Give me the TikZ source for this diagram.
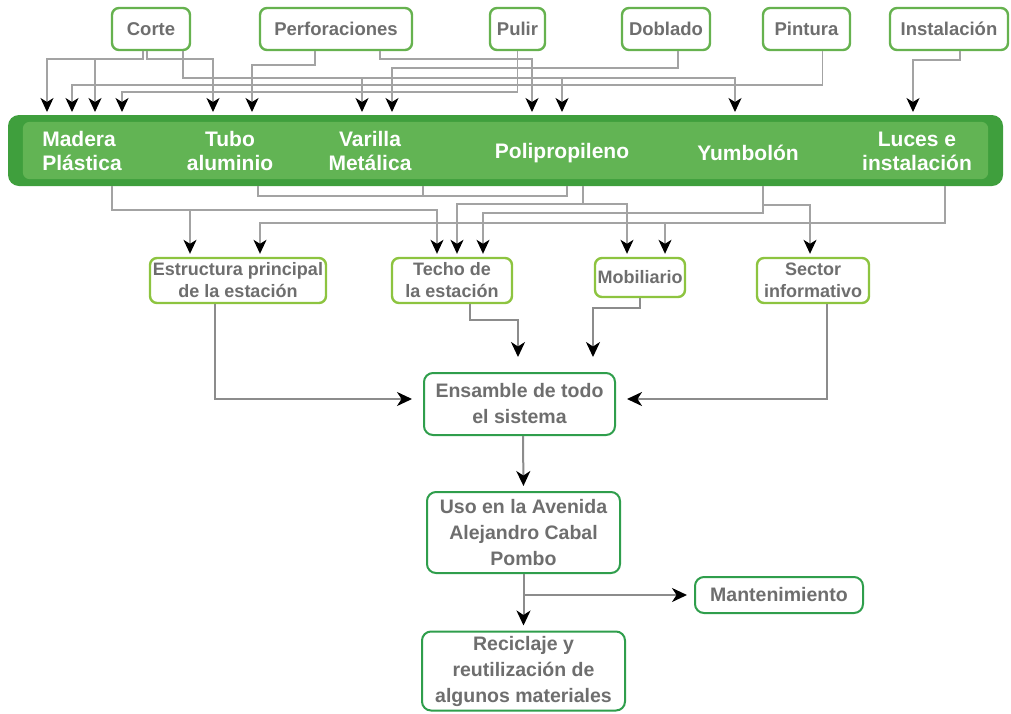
\documentclass[tikz,border=0pt]{standalone}
\usepackage{fontspec}
\setmainfont{Liberation Sans}
\usepackage{xcolor}
\usepackage{tikz}
\usetikzlibrary{arrows.meta,positioning,calc}

\definecolor{textgray}{HTML}{6E6E6E}
\definecolor{wiregray}{HTML}{A3A3A3}
\definecolor{linkgray}{HTML}{8C8C8C}
\definecolor{procgreen}{HTML}{66B24F}
\definecolor{partgreen}{HTML}{8DC440}
\definecolor{stagegreen}{HTML}{2F9E4C}
\definecolor{barouter}{HTML}{3F9F3D}
\definecolor{barinner}{HTML}{62B454}

\tikzset{
  tipfeed/.tip={Stealth[length=14pt,width=13pt,inset=4pt,black]},
  tiplink/.tip={Stealth[length=15pt,width=14pt,inset=4.5pt,black]}
}

\begin{document}
\begin{tikzpicture}[
  x=1pt, y=-1pt,
  proc/.style={draw=procgreen, line width=2.4pt, rounded corners=7pt, fill=white, text=textgray,
    font=\fontsize{18.5}{22}\selectfont\bfseries, inner sep=0pt, minimum height=42pt},
  part/.style={draw=partgreen, line width=2.4pt, rounded corners=7pt, fill=white, text=textgray,
    font=\fontsize{18}{22}\selectfont\bfseries, inner sep=0pt, align=center},
  stage/.style={draw=stagegreen, line width=2pt, rounded corners=9pt, fill=white, text=textgray,
    font=\fontsize{19.5}{26}\selectfont\bfseries, inner sep=0pt, align=center},
  mat/.style={text=white, font=\fontsize{21}{24}\selectfont\bfseries, inner sep=0pt, align=center},
  wire/.style={draw=wiregray, line width=1.1pt},
  feed/.style={wire, shorten >=3pt, -tipfeed},
  link/.style={draw=linkgray, line width=2pt, -tiplink}
]
\useasboundingbox (0,0) rectangle (1011,713);

% procesos
\node[proc, minimum width=78pt]  (corte)   at (151,29)   {Corte};
\node[proc, minimum width=152pt] (perf)    at (336,29)   {Perforaciones};
\node[proc, minimum width=55pt]  (pulir)   at (517.5,29) {Pulir};
\node[proc, minimum width=88pt]  (doblado) at (666,29)   {Doblado};
\node[proc, minimum width=87pt]  (pintura) at (806.5,29) {Pintura};
\node[proc, minimum width=118pt] (instal)  at (949,29)   {Instalación};

% barra de materiales
\node[fill=barouter, rounded corners=11pt, minimum width=995pt, minimum height=71pt, inner sep=0pt] (bar) at (505.5,150.5) {};
\fill[barinner, rounded corners=7pt] ([shift={(15pt,-7pt)}]bar.north west) rectangle ([shift={(-15pt,7pt)}]bar.south east);
\node[mat, align=left] (lmad)  at (82,151)  {Madera\\Plástica};
\node[mat]             (ltubo) at (230,151) {Tubo\\aluminio};
\node[mat]             (lvar)  at (370,151) {Varilla\\Metálica};
\node[mat]             (lpoli) at (562,153) {Polipropileno};
\node[mat]             (lyum)  at (748,153) {Yumbolón};
\node[mat]             (lluc)  at (917,151) {Luces e\\instalación};

\foreach \n/\xx in {1/47,2/72,3/95,4/122,5/213,6/252,7/362,8/392,9/532,10/562,11/735,12/913}
  \coordinate (t\n) at (\xx,115);
\foreach \n/\xx in {Ma/112,Tu/258,Va/423,Pa/567,Pb/583,Yu/763,Lu/945}
  \coordinate (b\n) at (\xx,186);

% procesos -> materiales
\draw[feed] ([xshift=-8pt]corte.south) |- (47,59) -- (t1);
\draw[feed] (95,59) -- (t3);
\draw[feed] ([xshift=-4pt]corte.south) |- (213,59) -- (t5);
\draw[feed] ([xshift=32pt]corte.south) |- (735,78) -- (t11);
\draw[feed] (362,78) -- (t7);
\draw[feed] (562,78) -- (t10);
\draw[feed] ([xshift=-21pt]perf.south) |- (252,65) -- (t6);
\draw[feed] ([xshift=44pt]perf.south) |- (532,59) -- (t9);
\draw[feed] (pulir.south) |- (122,92) -- (t4);
\draw[feed] ([xshift=12pt]doblado.south) |- (392,68) -- (t8);
\draw[feed] ([xshift=16pt]pintura.south) |- (72,85) -- (t2);
\draw[feed] ([xshift=11pt]instal.south) |- (913,60) -- (t12);

% partes
\node[part, minimum width=176pt, minimum height=45pt] (estr)   at (238,280.5) {Estructura principal\\de la estación};
\node[part, minimum width=120pt, minimum height=45pt] (techo)  at (452,280.5) {Techo de\\la estación};
\node[part, minimum width=90pt,  minimum height=39pt] (mobil)  at (640,277.5) {Mobiliario};
\node[part, minimum width=112pt, minimum height=45pt] (sector) at (813,280.5) {Sector\\informativo};

% materiales -> partes
\draw[feed] (bMa) |- (437,210) -- ([xshift=-15pt]techo.north);
\draw[feed] (190,210) -- ([xshift=-48pt]estr.north);
\draw[wire] (bTu) |- (567,196) -- (bPa);
\draw[wire] (bVa) -- (423,196);
\draw[feed] (bPb) |- (627,204) -- ([xshift=-13pt]mobil.north);
\draw[feed] (583,204) -| ([xshift=5pt]techo.north);
\draw[feed] (bYu) |- (483,213) -- ([xshift=31pt]techo.north);
\draw[feed] (763,205) -| ([xshift=-3pt]sector.north);
\draw[feed] (bLu) |- (260,223) -- ([xshift=22pt]estr.north);
\draw[feed] (665,223) -- ([xshift=25pt]mobil.north);

% etapas finales
\node[stage, minimum width=191pt, minimum height=62pt] (ens)   at (519.5,404) {Ensamble de todo\\el sistema};
\node[stage, minimum width=193pt, minimum height=81pt] (uso)   at (523.5,532.5) {Uso en la Avenida\\Alejandro Cabal\\Pombo};
\node[stage, minimum width=168pt, minimum height=36pt] (mant)  at (779,595) {Mantenimiento};
\node[stage, minimum width=203pt, minimum height=79pt] (recic) at (523.5,671) {Reciclaje y\\reutilización de\\algunos materiales};

\draw[link, shorten >=11pt] ([xshift=-23pt]estr.south) |- ([yshift=5pt]ens.west);
\draw[link, shorten >=11pt] ([xshift=14pt]sector.south) |- ([yshift=5pt]ens.east);
\draw[link, shorten >=15pt] ([xshift=18pt]techo.south) |- (518,320) -- ([xshift=-1.5pt]ens.north);
\draw[link, shorten >=15pt] (mobil.south) |- (593,308) -- ([xshift=73.5pt]ens.north);
\draw[link, shorten >=5pt] ([xshift=3.5pt]ens.south) -- (uso.north);
\draw[link, shorten >=5pt] (uso.south) -- (recic.north);
\draw[link, shorten >=7pt] (uso.south |- mant.west) -- (mant.west);
\end{tikzpicture}
\end{document}
